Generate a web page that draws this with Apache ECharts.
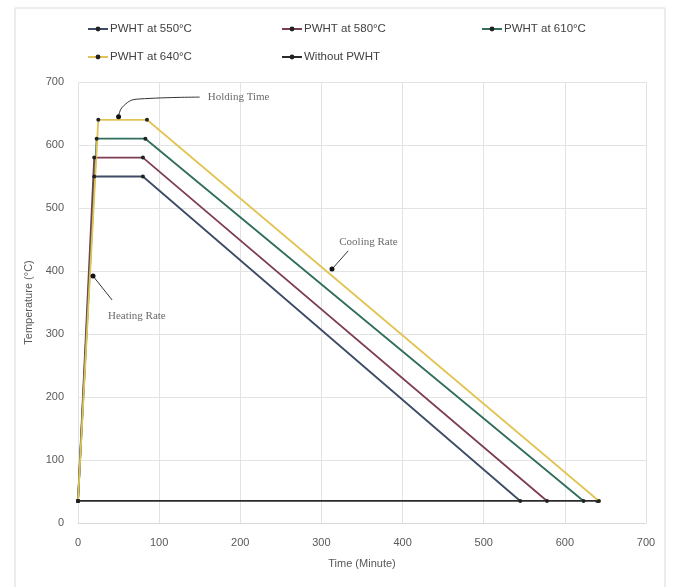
<!DOCTYPE html>
<html>
<head>
<meta charset="utf-8">
<script src="https://cdn.jsdelivr.net/npm/echarts@6/dist/echarts.min.js"></script>
<style>html,body{margin:0;padding:0;background:#fff}#c{width:673px;height:587px}</style>
</head>
<body>
<div id="c"></div>
<script>
const seriesNames = ['PWHT at 550°C', 'PWHT at 580°C', 'PWHT at 610°C', 'PWHT at 640°C', 'Without PWHT'];
const pwht550 = [[0, 35], [20, 550], [80, 550], [545, 35]];
const pwht580 = [[0, 35], [20, 580], [80, 580], [578, 35]];
const pwht610 = [[0, 35], [23, 610], [83, 610], [623, 35]];
const pwht640 = [[0, 35], [25, 640], [85, 640], [642, 35]];
const withoutPwht = [[0, 35], [640, 35]];
const xTicks = [0, 100, 200, 300, 400, 500, 600, 700];
const yTicks = [0, 100, 200, 300, 400, 500, 600, 700];

// annotations (data coordinates)
const holdArrow = [[50, 645], [56, 662], [75, 673], [150, 676]];
const coolArrow = [[313, 403], [333, 432]];
const heatArrow = [[18.5, 392], [42, 354]];
const annoText = [
  {value: [160, 676], text: 'Holding Time'},
  {value: [322, 446], text: 'Cooling Rate'},
  {value: [37, 329], text: 'Heating Rate'}
];

const colors = ['#3d4b66', '#7d3d52', '#2f6d5c', '#e2c455', '#2b2b2b'];
const allData = [pwht550, pwht580, pwht610, pwht640, withoutPwht];

const chart = echarts.init(document.getElementById('c'));

const mainSeries = allData.map((d, i) => ({
  name: seriesNames[i],
  type: 'line',
  data: d,
  symbol: 'circle',
  symbolSize: 4,
  lineStyle: {color: colors[i], width: 1.8},
  itemStyle: {color: '#222'},
  z: i === 4 ? 2 : 3
}));

const annoLine = (d, smooth) => ({
  type: 'line', data: d, smooth: smooth, silent: true,
  symbol: (v, p) => p.dataIndex === 0 ? 'circle' : 'none',
  symbolSize: 5,
  lineStyle: {color: '#333', width: 1},
  itemStyle: {color: '#111'},
  z: 5
});

const legendPos = [[82, 18], [276, 18], [476, 18], [82, 46], [276, 46]];

chart.setOption({
  animation: false,
  color: colors,
  graphic: [{
    type: 'rect', shape: {x: 15, y: 8, width: 650, height: 585},
    style: {fill: 'none', stroke: '#d9d9d9', lineWidth: 1}, silent: true
  }],
  legend: seriesNames.map((n, i) => ({
    data: [n], left: legendPos[i][0], top: legendPos[i][1],
    itemWidth: 20, itemHeight: 6, itemGap: 0,
    textStyle: {fontFamily: 'Liberation Sans, Arial', fontSize: 11.5, color: '#404040', padding: [0, 0, 0, -3]}
  })),
  grid: {left: 78, right: 27, top: 82, bottom: 64, containLabel: false},
  xAxis: {
    type: 'value', min: 0, max: 700, interval: 100,
    name: 'Time (Minute)', nameLocation: 'middle', nameGap: 35,
    nameTextStyle: {fontFamily: 'Liberation Sans', fontSize: 11, color: '#595959'},
    axisLine: {show: true, lineStyle: {color: '#d9d9d9'}},
    axisTick: {show: false},
    axisLabel: {fontFamily: 'Liberation Sans', fontSize: 11, color: '#595959', margin: 14,
      formatter: v => xTicks.includes(v) ? String(v) : ''},
    splitLine: {show: true, lineStyle: {color: '#e3e3e3'}}
  },
  yAxis: {
    type: 'value', min: 0, max: 700, interval: 100,
    name: 'Temperature (°C)', nameLocation: 'middle', nameGap: 38,
    nameTextStyle: {fontFamily: 'Liberation Sans', fontSize: 11, color: '#595959'},
    axisLine: {show: false},
    axisTick: {show: false},
    axisLabel: {fontFamily: 'Liberation Sans', fontSize: 11, color: '#595959', margin: 14,
      formatter: v => yTicks.includes(v) ? String(v) : ''},
    splitLine: {show: true, lineStyle: {color: '#e3e3e3'}}
  },
  series: mainSeries.concat([
    annoLine(holdArrow, 0.5),
    annoLine(coolArrow, false),
    annoLine(heatArrow, false),
    {
      type: 'scatter', silent: true, symbolSize: 0, z: 6,
      data: annoText.map(a => ({value: a.value, name: a.text})),
      label: {show: true, position: 'right', distance: 0, formatter: p => p.name,
        fontFamily: 'Liberation Serif, Times New Roman', fontSize: 11, color: '#444'}
    }
  ])
});
</script>
</body>
</html>
